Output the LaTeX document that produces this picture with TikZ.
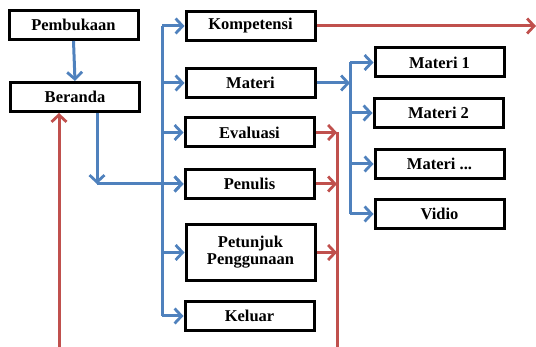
\documentclass[tikz,border=0pt]{standalone}
\usepackage{fontspec}
\setmainfont{Liberation Serif}
\usetikzlibrary{arrows.meta,calc}
\definecolor{lblue}{RGB}{79,129,189}
\definecolor{lred}{RGB}{192,80,77}
\begin{document}
\begin{tikzpicture}[x=1pt,y=-1pt,
  box/.style={draw=black,line width=3pt,fill=white,minimum width=129pt,minimum height=29pt,inner sep=1pt,align=center,font=\fontsize{16.5}{18}\selectfont\bfseries},
  bl/.style={draw=lblue,line width=3pt,line join=round},
  rd/.style={draw=lred,line width=3pt,line join=round},
  tip/.style={-{Straight Barb[length=7pt,width=15pt,line width=2.8pt]}}]
\useasboundingbox (0,0) rectangle (536,347);
\node[box] (pemb) at (73.5,25) {Pembukaan};
\node[box] (beranda) at (75,97) {Beranda};
\node[box] (komp) at (250.5,26) {Kompetensi};
\node[box] (materi) at (250.5,83) {Materi};
\node[box] (eval) at (249.5,132.5) {Evaluasi};
\node[box] (penulis) at (249.5,184) {Penulis};
\node[box,minimum height=56pt] (petunjuk) at (250.5,252.5) {Petunjuk\\[-1pt]Penggunaan};
\node[box] (keluar) at (249.5,316) {Keluar};
\node[box] (m1) at (439.5,62.5) {Materi 1};
\node[box] (m2) at (438.5,113) {Materi 2};
\node[box] (m3) at (439.5,164) {Materi ...};
\node[box] (vidio) at (439.5,214) {Vidio};
% coordinates
\coordinate (rbot) at (59,347);
\coordinate (bdown) at (97,0);
\coordinate (tr) at (162,0);
\coordinate (rtr) at (337,0);
\coordinate (mtr) at (350,0);
\coordinate (rbot2) at (337,347);
\coordinate (kend) at (536,0);
\coordinate (bend) at (bdown |- penulis.west);
% Pembukaan -> Beranda
\draw[bl,tip] (pemb.south) -- (beranda.north);
% red up to Beranda
\draw[rd,tip] (rbot) -- (rbot |- beranda.south);
% Beranda -> Penulis
\draw[bl,tip] (bdown |- beranda.south) -- (bend);
\draw[bl,tip] (bend) -- (penulis.west);
% blue trunk
\draw[bl] (tr |- komp.west) -- (tr |- keluar.west);
\foreach \n in {komp,materi,eval,penulis,petunjuk,keluar}
  \draw[bl,tip] (tr |- \n.west) -- (\n.west);
% Kompetensi red arrow
\draw[rd,tip] (komp.east) -- (kend |- komp.east);
% red trunk
\draw[rd] (rtr |- eval.east) -- (rbot2);
\foreach \n in {eval,penulis,petunjuk}
  \draw[rd,tip] (\n.east) -- (rtr |- \n.east);
% Materi -> sub
\draw[bl,tip] (materi.east) -- (mtr |- materi.east);
\draw[bl] (mtr |- m1.west) -- (mtr |- vidio.west);
\foreach \n in {m1,m2,m3,vidio}
  \draw[bl,tip] (mtr |- \n.west) -- (\n.west);
\end{tikzpicture}
\end{document}
